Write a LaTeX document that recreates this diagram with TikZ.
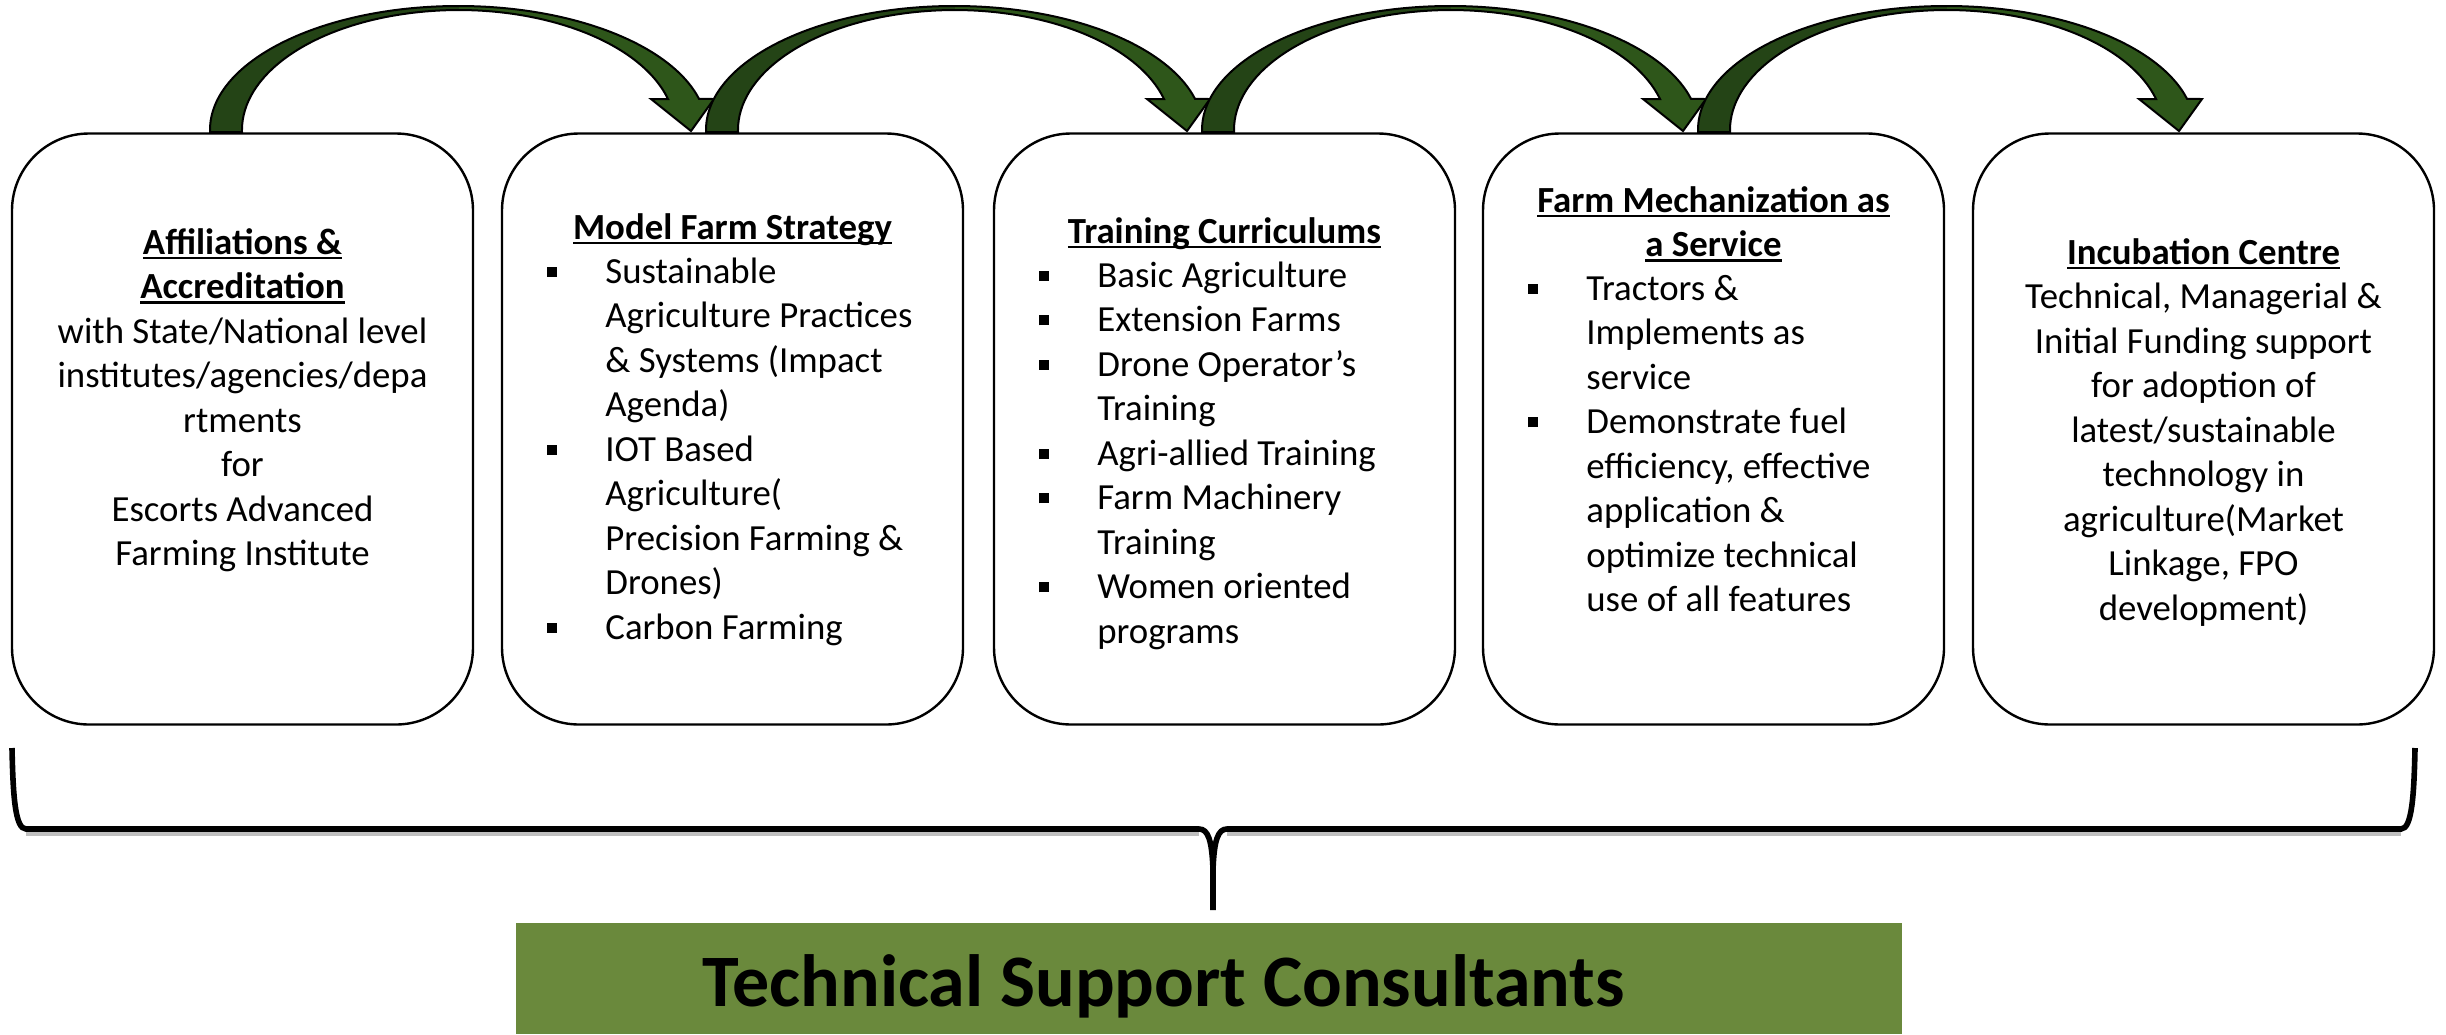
\documentclass[tikz,border=0pt]{standalone}
\usepackage{fontspec}
\setmainfont{Carlito}
\definecolor{arrowlight}{RGB}{46,86,26}
\definecolor{arrowdark}{RGB}{36,68,22}
\definecolor{olivebox}{RGB}{106,137,60}
\newcommand\ulhead[1]{\leavevmode\setbox0=\hbox{\bfseries #1}\rlap{\vrule width\wd0 height-1.2pt depth2.3pt}\box0}
\newcommand\bfirst[1]{\par\noindent\strut\hbox to 29pt{\raise3.25pt\hbox{\vrule width5pt height5pt depth0pt}\hfil}#1\par}
\newcommand\bcont[1]{\par\noindent\strut\hskip29pt\relax #1\par}
\newcommand\clnx[1]{\par\noindent\strut #1\par}
\newcommand\cblock[1]{\vtop{\hsize=230pt\parskip=0pt\parindent=0pt\leftskip=0pt plus 1fil\rightskip=0pt plus 1fil\parfillskip=0pt #1}}
\newcommand\lblock[1]{\vtop{\hsize=215pt\parskip=0pt\parindent=0pt\leftskip=0pt\rightskip=0pt plus 1fil\parfillskip=0pt #1}}
\tikzset{pics/carrow/.style={code={
  \draw[line width=1pt, line join=miter, fill=arrowlight,
        path picture={\fill[arrowdark] ([xshift=-2pt,yshift=2pt]path picture bounding box.north west) rectangle ([xshift=124.25pt,yshift=-2pt]path picture bounding box.south west);}]
    (210,-132) -- (210,-130) arc[start angle=180, end angle=14.5, x radius=248.5, y radius=124]
    -- (714,-99) -- (691,-131) -- (651,-99) -- (668,-99)
    arc[start angle=15, end angle=180, x radius=216.7, y radius=120] -- (242,-132) -- cycle;
}}}
\begin{document}
\begin{tikzpicture}[x=0.5pt,y=0.5pt,
  card/.style={draw=black, line width=1.2pt, rounded corners=38.5pt, minimum width=230.5pt, minimum height=295.5pt, inner sep=0pt, fill=white},
  body/.style={inner sep=0pt, font=\fontsize{18.4}{22.25}\selectfont},
  ctext/.style={body, anchor=north},
  ltext/.style={body, anchor=north west},
  bracepen/.style={line width=2.8pt, black},
  braceshadow/.style={line width=2.4pt, black!25}
]
\useasboundingbox (0,0) rectangle (2446,-1034);
\fill[white] (0,0) rectangle (2446,-1034);

% boxes
\node[card] (b1) at (242.5,-429) {};
\node[card] (b2) at (732.5,-429) {};
\node[card] (b3) at (1224.5,-429) {};
\node[card] (b4) at (1713.5,-429) {};
\node[card] (b5) at (2203.5,-429) {};

% curved arrows
\pic (a1) at (0,0) {carrow};
\pic (a2) at (496,0) {carrow};
\pic (a3) at (992,0) {carrow};
\pic (a4) at (1488,0) {carrow};

% box 1
\node[ctext] (t1) at (242.5,-222.85) {\cblock{%
\clnx{\ulhead{Affiliations \&}}\clnx{\ulhead{Accreditation}}%
\clnx{with State/National level}\clnx{institutes/agencies/depa}\clnx{rtments}%
\clnx{for}\clnx{Escorts Advanced}\clnx{Farming Institute}}};

% box 2
\node[ctext] (h2) at (732.5,-207.85) {\cblock{\clnx{\ulhead{Model Farm Strategy}}}};
\node[ltext] (l2) at (547,-251.85) {\lblock{%
\bfirst{Sustainable}\bcont{Agriculture Practices}\bcont{\& Systems (Impact}\bcont{Agenda)}%
\bfirst{IOT Based}\bcont{Agriculture(}\bcont{Precision Farming \&}\bcont{Drones)}%
\bfirst{Carbon Farming}}};

% box 3
\node[ctext] (h3) at (1224.5,-211.85) {\cblock{\clnx{\ulhead{Training Curriculums}}}};
\node[ltext] (l3) at (1039,-255.85) {\lblock{%
\bfirst{Basic Agriculture}%
\bfirst{Extension Farms}%
\bfirst{Drone Operator’s}\bcont{Training}%
\bfirst{Agri-allied Training}%
\bfirst{Farm Machinery}\bcont{Training}%
\bfirst{Women oriented}\bcont{programs}}};

% box 4
\node[ctext] (h4) at (1713.5,-180.85) {\cblock{\clnx{\ulhead{Farm Mechanization as}}\clnx{\ulhead{a Service}}}};
\node[ltext] (l4) at (1528,-268.85) {\lblock{%
\bfirst{Tractors \&}\bcont{Implements as}\bcont{service}%
\bfirst{Demonstrate fuel}\bcont{efficiency, effective}\bcont{application \&}\bcont{optimize technical}\bcont{use of all features}}};

% box 5
\node[ctext] (t5) at (2203.5,-232.85) {\cblock{%
\clnx{\ulhead{Incubation Centre}}\clnx{Technical, Managerial \&}\clnx{Initial Funding support}%
\clnx{for adoption of}\clnx{latest/sustainable}\clnx{technology in}\clnx{agriculture(Market}%
\clnx{Linkage, FPO}\clnx{development)}}};

% brace
\draw[braceshadow] (26,-834) -- (1199,-834);
\draw[braceshadow] (1227,-834) -- (2401,-834);
\draw[bracepen] (12,-748) .. controls (13,-795) and (15,-829) .. (26,-829) -- (1199,-829)
  .. controls (1208,-829) and (1212,-840) .. (1213,-870) -- (1213,-910);
\draw[bracepen] (1213,-870) .. controls (1214,-840) and (1218,-829) .. (1227,-829) -- (2401,-829)
  .. controls (2412,-829) and (2414,-795) .. (2415,-748);

% bottom box
\node[fill=olivebox, minimum width=693pt, minimum height=55.5pt, inner sep=0pt] (tsc) at (1209,-978.5) {};
\node[anchor=base west, inner sep=0pt, font=\fontsize{37}{44}\selectfont\bfseries] (tsclabel) at (702,-1006) {Technical Support Consultants};
\end{tikzpicture}
\end{document}
